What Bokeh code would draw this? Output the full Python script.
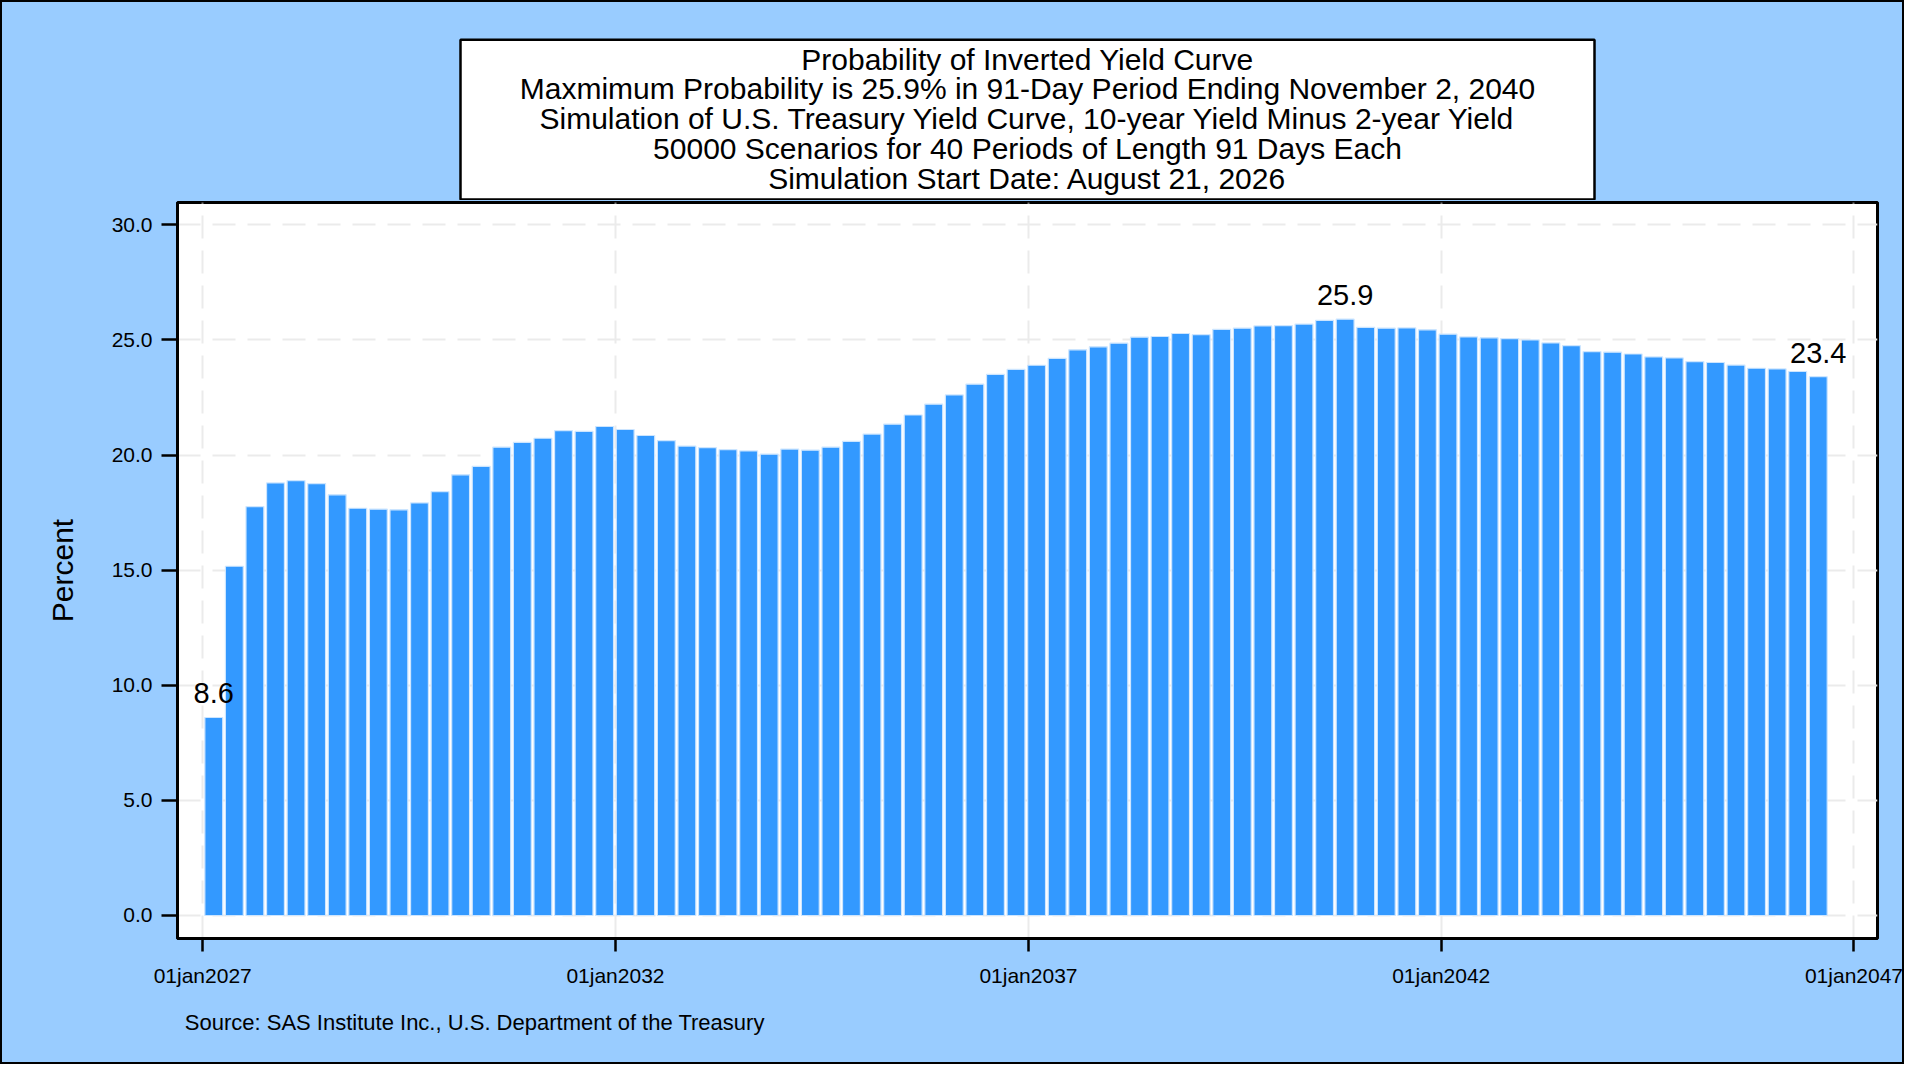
import numpy as np
import pandas as pd
from bokeh.plotting import figure
from bokeh.layouts import column
from bokeh.models import Range1d, FixedTicker, PrintfTickFormatter, ColumnDataSource
from bokeh.core.properties import value
from bokeh.embed import file_html
from bokeh.resources import INLINE

# ---------------- data ----------------
prob_pct = [
    8.6, 15.17, 17.76, 18.79, 18.89, 18.76, 18.27, 17.69, 17.65, 17.62,
    17.92, 18.41, 19.14, 19.51, 20.34, 20.55, 20.73, 21.06, 21.03, 21.24,
    21.11, 20.85, 20.63, 20.39, 20.32, 20.23, 20.18, 20.04, 20.26, 20.21,
    20.34, 20.59, 20.91, 21.34, 21.74, 22.21, 22.61, 23.08, 23.50, 23.72,
    23.90, 24.20, 24.57, 24.70, 24.86, 25.12, 25.15, 25.28, 25.23, 25.46,
    25.51, 25.61, 25.62, 25.69, 25.85, 25.9, 25.55, 25.51, 25.52, 25.44,
    25.25, 25.13, 25.09, 25.06, 25.00, 24.87, 24.75, 24.49, 24.47, 24.39,
    24.26, 24.22, 24.06, 24.02, 23.91, 23.77, 23.74, 23.63, 23.4,
]
sim_start = "2026-08-21"
period_days = 91
first_period = 2
y_ticks = [0, 5, 10, 15, 20, 25, 30]
x_tick_dates = ["2027-01-01", "2032-01-01", "2037-01-01", "2042-01-01", "2047-01-01"]
x_tick_labels = ["01jan2027", "01jan2032", "01jan2037", "01jan2042", "01jan2047"]
title_lines = [
    "Probability of Inverted Yield Curve",
    "Maxmimum Probability is 25.9% in 91-Day Period Ending November 2, 2040",
    "Simulation of U.S. Treasury Yield Curve, 10-year Yield Minus 2-year Yield",
    "50000 Scenarios for 40 Periods of Length 91 Days Each",
    "Simulation Start Date: August 21, 2026",
]
y_label = "Percent"
source_note = "Source: SAS Institute Inc., U.S. Department of the Treasury"

# ---------------- derived ----------------
DAY = 86400000.0
period_end = pd.Timestamp(sim_start) + pd.to_timedelta(
    np.arange(first_period, first_period + len(prob_pct)) * period_days, unit="D")
vals = np.array(prob_pct)

def ms(d):
    return pd.Timestamp(d).value / 1e6

x_tick_ms = [ms(d) for d in x_tick_dates]

FONT = "Liberation Sans"
BG = "#99CCFF"
W = 1904
TOP_H = 200          # title strip (page y 0..200)
MAIN_BOTTOM = 1000   # main chart strip (page y 200..1000)
TOTAL_H = 1064
FL, FR, FT, FB = 177, 1877, 202, 938     # page coordinates of the plot frame
BASE_FIX = 0.35      # baseline correction (em) for alphabetic text in svg

def strip(h, y0):
    f = figure(width=W, height=h, x_range=Range1d(FL, FR), y_range=Range1d(y0 + h, y0),
               x_axis_location=None, y_axis_location=None,
               output_backend="svg", toolbar_location=None,
               min_border_left=FL, min_border_right=W - FR,
               min_border_top=0, min_border_bottom=0,
               background_fill_color=None, border_fill_color=None,
               outline_line_color=None)
    f.grid.visible = False
    return f

# ---------------- title strip ----------------
top = strip(TOP_H, 0)
top.quad(left=[460], right=[1594], top=[39.3], bottom=[199.0],
         fill_color="white", line_color="black", line_width=2.5)
top.text(x=[1027] * len(title_lines),
         y=[69 + i * 29.8 - BASE_FIX * 30 for i in range(len(title_lines))],
         text=title_lines, text_align="center", text_baseline="alphabetic",
         text_font=value(FONT), text_font_size="30px", text_color="black")

# ---------------- main chart ----------------
xs = ms("2027-01-01") - 111.5 * DAY
xe = ms("2047-01-01") + 104.0 * DAY
ys, ye = -1.0, 30.97

p = figure(width=W, height=MAIN_BOTTOM - TOP_H, x_axis_type="datetime",
           x_range=Range1d(xs, xe), y_range=Range1d(ys, ye),
           output_backend="svg", toolbar_location=None,
           min_border_left=FL, min_border_right=W - FR,
           min_border_top=FT - TOP_H, min_border_bottom=MAIN_BOTTOM - FB,
           background_fill_color="white", border_fill_color=None,
           outline_line_color="black", outline_line_width=3)

src = ColumnDataSource(dict(x=period_end, top=vals))
p.vbar(x="x", top="top", bottom=0, width=79 * DAY, source=src,
       fill_color="#3399FF", line_color="#CCE5FF", line_width=1.2)

idx = [0, int(np.argmax(vals)), len(vals) - 1]
lab = ColumnDataSource(dict(x=period_end[idx], y=vals[idx],
                            t=["%.1f" % vals[i] for i in idx]))
p.text(x="x", y="y", text="t", source=lab, text_align="center",
       text_baseline="alphabetic", y_offset=-14 - BASE_FIX * 29,
       text_font=value(FONT), text_font_size="29px", text_color="black")

for ax in (p.yaxis, p.xaxis):
    ax.major_tick_in = 0
    ax.minor_tick_out = 0
    ax.minor_tick_in = 0
    ax.major_tick_line_width = 2.5
    ax.major_tick_line_color = "black"
    ax.axis_line_width = 3
    ax.axis_line_color = "black"
    ax.major_label_text_font = FONT
    ax.major_label_text_font_size = "21px"
    ax.major_label_text_color = "black"

p.yaxis.ticker = FixedTicker(ticks=y_ticks)
p.yaxis.formatter = PrintfTickFormatter(format="%.1f")
p.yaxis.major_tick_out = 16
p.yaxis.major_label_standoff = 9
p.yaxis.axis_label = y_label
p.yaxis.axis_label_text_font = FONT
p.yaxis.axis_label_text_font_size = "30px"
p.yaxis.axis_label_text_font_style = "normal"
p.yaxis.axis_label_text_color = "black"
p.yaxis.axis_label_standoff = 30

p.xaxis.ticker = FixedTicker(ticks=x_tick_ms)
p.xaxis.major_label_overrides = dict(zip(x_tick_ms, x_tick_labels))
p.xaxis.major_tick_out = 13
p.xaxis.major_label_standoff = 12

p.xgrid.ticker = FixedTicker(ticks=x_tick_ms)
p.ygrid.ticker = FixedTicker(ticks=y_ticks)
for g in (p.xgrid, p.ygrid):
    g.grid_line_color = "#EBEBEB"
    g.grid_line_width = 2
    g.grid_line_dash = "23 12"

# ---------------- source strip ----------------
bot = strip(TOTAL_H - MAIN_BOTTOM, MAIN_BOTTOM)
bot.text(x=[184.3], y=[1030 - BASE_FIX * 22], text=[source_note], text_align="left",
         text_baseline="alphabetic", text_font=value(FONT), text_font_size="22px",
         text_color="black")

layout = column(top, p, bot, spacing=0,
                styles={"background-color": BG, "outline": "2px solid black",
                        "outline-offset": "-2px"})
open("out.html", "w").write(file_html(layout, INLINE))
